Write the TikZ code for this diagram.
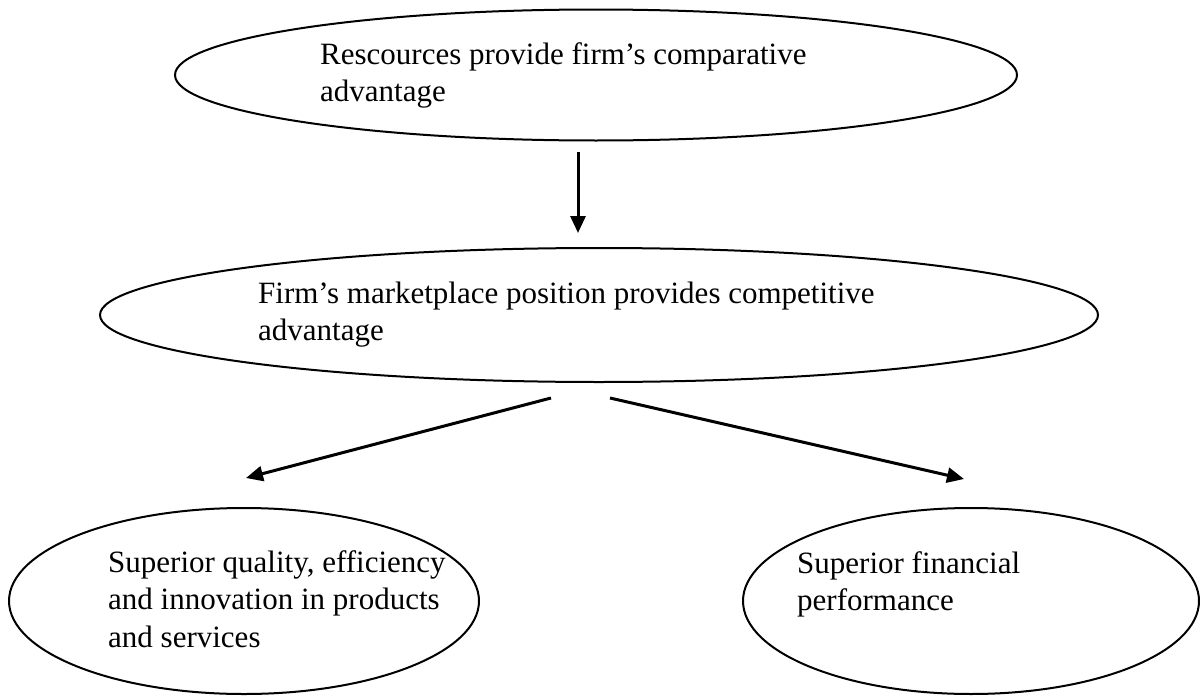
\documentclass[tikz,border=0pt]{standalone}
\usepackage{fontspec}
\setmainfont{Liberation Serif}
\usetikzlibrary{shapes.geometric,arrows.meta}

\tikzset{
  bubble/.style={draw, ellipse, line width=2pt, inner sep=0pt},
  % anchored at the baseline of the last line of each text
  label text/.style={anchor=base west, inner sep=0pt, align=left,
    font=\fontsize{31}{37.5}\selectfont},
  flow/.style={line width=3pt, -{Triangle[length=17pt,width=15pt]}}
}

\begin{document}
\begin{tikzpicture}[x=1pt,y=-1pt]
  \useasboundingbox (0,0) rectangle (1200,696);

  % the four ellipses
  \node[bubble, minimum width=842pt, minimum height=131pt] (res)  at (596,75)  {};
  \node[bubble, minimum width=998pt, minimum height=134pt] (pos)  at (599,315) {};
  \node[bubble, minimum width=470pt, minimum height=186pt] (qual) at (244,601) {};
  \node[bubble, minimum width=456pt, minimum height=186pt] (fin)  at (971,601) {};

  % their texts
  \node[label text] (resT)  at (320,101.5) {Rescources provide firm’s comparative\\advantage};
  \node[label text] (posT)  at (258,340.5) {Firm’s marketplace position provides competitive\\advantage};
  \node[label text] (qualT) at (108,647)   {Superior quality, efficiency\\and innovation in products\\and services};
  \node[label text] (finT)  at (797,610.5) {Superior financial\\performance};

  % free arrow ends between the ellipses
  \coordinate (a1s) at (578,152);
  \coordinate (a1e) at (578,233);
  \coordinate (a2s) at (551,398);
  \coordinate (a2e) at (246,478);
  \coordinate (a3s) at (610,398);
  \coordinate (a3e) at (964,479);

  \draw[flow] (a1s) -- (a1e);
  \draw[flow] (a2s) -- (a2e);
  \draw[flow] (a3s) -- (a3e);
\end{tikzpicture}
\end{document}
